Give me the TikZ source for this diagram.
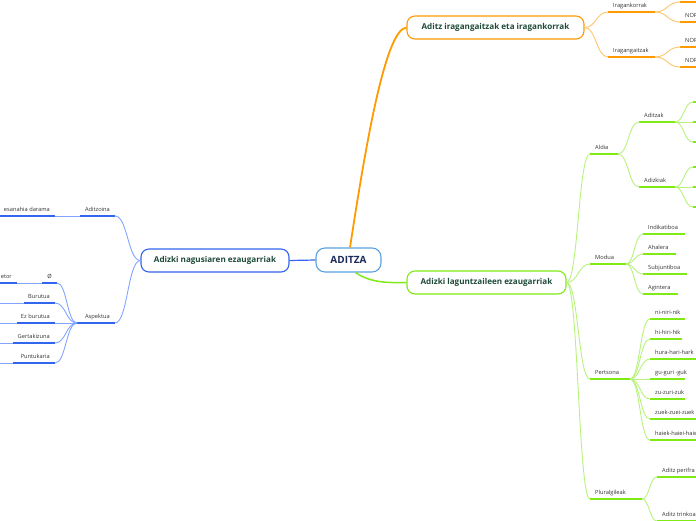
\documentclass[tikz,border=0pt]{standalone}
\usepackage{fontspec}
\setmainfont{Open Sans}
\usetikzlibrary{calc}
\definecolor{ora}{HTML}{FF9A00}
\definecolor{oral}{HTML}{FFC46E}
\definecolor{grn}{HTML}{7FEA14}
\definecolor{grnl}{HTML}{B8F27C}
\definecolor{blu}{HTML}{3366EE}
\definecolor{blul}{HTML}{82A6FF}
\definecolor{cen}{HTML}{5AA2E0}
\definecolor{navy}{HTML}{1B2B5C}
\definecolor{dkg}{HTML}{1E4A38}
\definecolor{txt}{HTML}{333333}
\tikzset{
  lbl/.style={font=\fontsize{5.7}{6}\selectfont, text=txt, inner sep=0pt},
  mainbox/.style={draw, rounded corners=8pt, fill=white, minimum height=23pt,
    font=\fontsize{8.1}{9}\selectfont\bfseries, text=dkg, inner sep=0pt, line width=1.1pt},
  central/.style={draw=cen, rounded corners=9pt, fill=white, minimum width=65pt,
    minimum height=24pt, font=\fontsize{10}{12}\selectfont\bfseries, text=navy, line width=1.1pt},
  uo/.style={draw=ora, line width=2pt},
  ug/.style={draw=grn, line width=2pt},
  ub/.style={draw=blu, line width=2pt},
  mm/.style={to path={let \p1=(\tikztostart), \p2=(\tikztotarget) in
    .. controls ({0.5*\x1+0.5*\x2},\y1) and ({0.5*\x1+0.5*\x2},\y2) .. (\tikztotarget)}},
  co/.style={draw=oral, line width=0.9pt, mm},
  cg/.style={draw=grnl, line width=0.9pt, mm},
  cb/.style={draw=blul, line width=0.9pt, mm},
}
\newcommand\lfR[6]{%
  \coordinate (#1-l) at (#2,#4);
  \coordinate (#1-r) at (#3,#4);
  \draw[#6] (#1-l) -- (#1-r);
  \node[lbl,anchor=base west] (#1) at ([xshift=5pt,yshift=4.5pt]#1-l) {#5};}
\newcommand\lfL[6]{%
  \coordinate (#1-l) at (#2,#4);
  \coordinate (#1-r) at (#3,#4);
  \draw[#6] (#1-l) -- (#1-r);
  \node[lbl,anchor=base east] (#1) at ([xshift=-5pt,yshift=4.5pt]#1-r) {#5};}
\newcommand\lfN[5]{%
  \coordinate (#1-l) at (#2,#4);
  \coordinate (#1-r) at (#3,#4);
  \draw[#5] (#1-l) -- (#1-r);}
\begin{document}
\begin{tikzpicture}[x=1pt,y=-1pt]
\useasboundingbox (0,0) rectangle (696,520);
\clip (0,0) rectangle (696,520);

% ---------- main nodes ----------
\node[central] (aditza) at (348.5,260) {ADITZA};
\node[mainbox,draw=blu,minimum width=148pt] (nag) at (215,260.5) {Adizki nagusiaren ezaugarriak};
\node[mainbox,draw=ora,minimum width=177pt] (irag) at (495.5,27.5) {Aditz iragangaitzak eta iragankorrak};
\node[mainbox,draw=grn,minimum width=159pt] (lag) at (486.5,282.5) {Adizki laguntzaileen ezaugarriak};

% ---------- main connectors ----------
\draw[ora, line width=1.8pt] ([xshift=1.5pt]aditza.north) .. controls (365,150) and (385,29) .. (irag.west);
\draw[grn, line width=1.5pt] ([xshift=7pt]aditza.south) .. controls (372,284) and (392,282.5) .. (lag.west);
\draw[blu, line width=1.2pt] (aditza.west) -- (nag.east);

% ---------- orange subtree ----------
\lfR{iragk}{608}{655}{12}{Iragankorrak}{uo}
\lfN{ik1}{680}{700}{2}{uo}
\lfR{ik2}{680}{700}{22}{NOR}{uo}
\lfR{iragg}{608}{655}{57}{Iragangaitzak}{uo}
\lfR{ig1}{680}{700}{47}{NOR}{uo}
\lfR{ig2}{680}{700}{67}{NOR}{uo}
\draw[co] (irag.east) to (iragk-l);
\draw[co] (irag.east) to (iragg-l);
\draw[co] (iragk-r) to (ik1-l);
\draw[co] (iragk-r) to (ik2-l);
\draw[co] (iragg-r) to (ig1-l);
\draw[co] (iragg-r) to (ig2-l);

% ---------- green subtree ----------
\lfR{aldia}{590}{618}{154}{Aldia}{ug}
\lfR{aditzak}{639}{675}{122}{Aditzak}{ug}
\lfN{az1}{693}{700}{102}{ug}
\lfN{az2}{693}{700}{122}{ug}
\lfN{az3}{693}{700}{142}{ug}
\lfR{adizkiak}{639}{675}{187}{Adizkiak}{ug}
\lfN{ak1}{693}{700}{167}{ug}
\lfN{ak2}{693}{700}{187}{ug}
\lfN{ak3}{693}{700}{207}{ug}
\lfR{modua}{590}{626}{264}{Modua}{ug}
\lfR{indik}{643}{685}{234}{Indikatiboa}{ug}
\lfR{ahal}{643}{676}{254}{Ahalera}{ug}
\lfR{subj}{643}{687}{274}{Subjuntiboa}{ug}
\lfR{agin}{643}{678}{294}{Agintera}{ug}
\lfR{pertsona}{590}{630}{379}{Pertsona}{ug}
\lfR{pa}{650}{685}{319}{ni-niri-nik}{ug}
\lfR{pb}{650}{682}{339}{hi-hiri-hik}{ug}
\lfR{pc}{650}{700}{359}{hura-hari-hark}{ug}
\lfR{pd}{650}{685}{379}{gu-guri -guk}{ug}
\lfR{pe}{650}{685}{399}{zu-zuri-zuk}{ug}
\lfR{pf}{650}{700}{419}{zuek-zuei-zuek}{ug}
\lfR{pg}{650}{700}{440}{haiek-haiei-haie}{ug}
\lfR{plural}{590}{642}{499}{Pluralgileak}{ug}
\lfR{perif}{657}{720}{477}{Aditz perifra}{ug}
\lfR{trink}{657}{720}{521}{Aditz trinkoa}{ug}

\foreach \t in {aldia,modua,pertsona,plural} \draw[cg] (lag.east) to (\t-l);
\foreach \t in {aditzak,adizkiak} \draw[cg] (aldia-r) to (\t-l);
\foreach \t in {az1,az2,az3} \draw[cg] (aditzak-r) to (\t-l);
\foreach \t in {ak1,ak2,ak3} \draw[cg] (adizkiak-r) to (\t-l);
\foreach \t in {indik,ahal,subj,agin} \draw[cg] (modua-r) to (\t-l);
\foreach \t in {pa,pb,pc,pd,pe,pf,pg} \draw[cg] (pertsona-r) to (\t-l);
\foreach \t in {perif,trink} \draw[cg] (plural-r) to (\t-l);

% ---------- blue subtree ----------
\lfL{aditzoina}{80}{115}{216}{Aditzoina}{ub}
\lfL{esan}{-10}{55}{216}{esanahia darama}{ub}
\lfL{aspektua}{77}{115}{323}{Aspektua}{ub}
\lfL{etor}{-10}{17}{283}{etor}{ub}
\lfL{oslash}{42}{57}{283}{Ø}{ub}
\lfL{burutua}{24}{55}{303}{Burutua}{ub}
\lfL{ezb}{17}{55}{323}{Ez burutua}{ub}
\lfL{gert}{13}{55}{343}{Gertakizuna}{ub}
\lfL{punt}{13}{55}{363}{Puntukaria}{ub}
\coordinate (burutua-c) at (-5,303);
\coordinate (ezb-c) at (-5,323);
\coordinate (gert-c) at (-5,343);
\coordinate (punt-c) at (-5,363);

\draw[cb] (nag.west) to (aditzoina-r);
\draw[cb] (nag.west) to (aspektua-r);
\draw[blul, line width=0.9pt] (aditzoina-l) -- (esan-r);
\foreach \t in {oslash,burutua,ezb,gert,punt} \draw[cb] (aspektua-l) to (\t-r);
\draw[blul, line width=0.9pt] (oslash-l) -- (etor-r);
\foreach \t in {burutua,ezb,gert,punt} \draw[blul, line width=0.9pt] (\t-l) -- (\t-c);
\end{tikzpicture}
\end{document}
